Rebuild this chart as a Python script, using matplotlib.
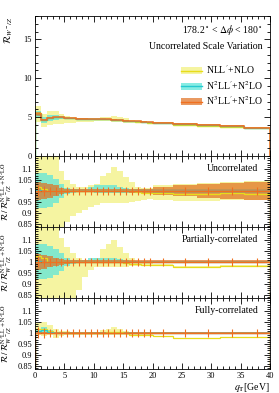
import numpy as np
import matplotlib
matplotlib.use("Agg")
import matplotlib.pyplot as plt
from matplotlib.patches import Patch
from matplotlib.lines import Line2D
from matplotlib.ticker import MultipleLocator, FixedLocator

plt.rcParams['font.family'] = ['Liberation Serif', 'DejaVu Serif']
plt.rcParams['mathtext.fontset'] = 'stix'

# ---------------- data ----------------
edges = [0, 1, 2, 3, 4, 5, 6, 7, 8, 9, 10, 11, 12, 13, 14, 15, 16, 17, 18, 19, 20,
         23.5, 27.5, 31.5, 35.5, 40]

# N3LL'+N2LO central R_{W-/Z}
r_n3ll = [5.4, 4.6, 4.9, 4.95, 4.95, 4.9, 4.85, 4.82, 4.8, 4.77, 4.75, 4.72, 4.7, 4.67,
          4.62, 4.55, 4.5, 4.45, 4.4, 4.35, 4.25, 4.1, 3.95, 3.8, 3.6]

# stat. errors on reference ratio
ref_err = [0.025, 0.022, 0.02, 0.02, 0.02, 0.02, 0.02, 0.02, 0.02, 0.02, 0.02, 0.02, 0.02,
           0.02, 0.02, 0.02, 0.02, 0.02, 0.02, 0.02, 0.02, 0.02, 0.02, 0.02, 0.02]

# --- Uncorrelated ratios ---
unc_nll_c = [1.02, 1.01, 1.0, 1.0, 1.0, 1.0, 1.0, 1.0, 1.0, 1.0, 1.0, 1.0, 1.0, 1.0, 1.0,
             1.0, 0.998, 0.995, 0.99, 0.99, 0.99, 0.985, 0.985, 0.99, 0.985]
unc_nll_lo = [0.82, 0.82, 0.82, 0.82, 0.83, 0.86, 0.885, 0.9, 0.915, 0.925, 0.935, 0.945,
              0.945, 0.945, 0.945, 0.945, 0.95, 0.955, 0.96, 0.965, 0.96, 0.955, 0.955,
              0.96, 0.96]
unc_nll_hi = [1.18, 1.18, 1.18, 1.18, 1.09, 1.05, 1.03, 1.02, 1.02, 1.025, 1.03, 1.07,
              1.08, 1.11, 1.09, 1.065, 1.04, 1.02, 1.015, 1.015, 1.025, 1.03, 1.035,
              1.04, 1.045]
unc_n2ll_c = [1.005, 1.0, 1.0, 1.0, 1.0, 1.0, 1.0, 1.0, 1.0, 1.0, 1.0, 1.0, 1.0, 1.0, 1.0,
              1.0, 1.0, 1.0, 1.0, 1.0, 1.0, 1.0, 1.0, 1.0, 1.0]
unc_n2ll_lo = [0.92, 0.92, 0.925, 0.945, 0.97, 0.985, 0.99, 0.993, 0.993, 0.993, 0.992,
               0.99, 0.99, 0.99, 0.99, 0.992, 0.993, 0.993, 0.993, 0.993, 0.99, 0.99,
               0.99, 0.99, 0.99]
unc_n2ll_hi = [1.08, 1.08, 1.075, 1.055, 1.03, 1.015, 1.01, 1.01, 1.01, 1.02, 1.025, 1.025,
               1.025, 1.025, 1.02, 1.015, 1.01, 1.01, 1.01, 1.01, 1.01, 1.01, 1.01, 1.01,
               1.01]
unc_n3ll_lo = [0.96, 0.965, 0.97, 0.975, 0.985, 0.99, 0.993, 0.993, 0.993, 0.993, 0.993,
               0.993, 0.993, 0.993, 0.993, 0.993, 0.99, 0.99, 0.99, 0.99, 0.98, 0.975,
               0.97, 0.965, 0.96]
unc_n3ll_hi = [1.04, 1.035, 1.03, 1.025, 1.015, 1.01, 1.007, 1.007, 1.007, 1.007, 1.007,
               1.007, 1.007, 1.007, 1.007, 1.007, 1.01, 1.01, 1.01, 1.01, 1.02, 1.025,
               1.03, 1.035, 1.04]

# --- Partially-correlated ratios ---
par_nll_c = [1.025, 1.02, 1.0, 1.0, 1.0, 1.0, 1.0, 1.0, 1.0, 1.0, 1.0, 1.0, 1.0, 1.0, 1.0,
             0.995, 0.99, 0.99, 0.985, 0.985, 0.985, 0.978, 0.978, 0.98, 0.98]
par_nll_lo = [0.82, 0.82, 0.82, 0.82, 0.82, 0.82, 0.82, 0.87, 0.93, 0.965, 0.975, 0.975,
              0.975, 0.975, 0.975, 0.975, 0.98, 0.98, 0.98, 0.98, 0.98, 0.975, 0.975,
              0.977, 0.977]
par_nll_hi = [1.18, 1.18, 1.18, 1.18, 1.11, 1.07, 1.04, 1.02, 1.01, 1.01, 1.02, 1.06,
              1.08, 1.1, 1.07, 1.04, 1.02, 1.005, 1.0, 1.0, 0.99, 0.982, 0.982, 0.984,
              0.984]
par_n2ll_c = [1.005, 1.0, 1.0, 1.0, 1.0, 1.0, 1.0, 1.0, 1.0, 1.0, 1.0, 1.0, 1.0, 1.0, 1.0,
              1.0, 1.0, 1.0, 1.0, 1.0, 1.0, 1.0, 1.0, 1.0, 1.0]
par_n2ll_lo = [0.92, 0.92, 0.925, 0.94, 0.96, 0.98, 0.99, 0.993, 0.995, 0.995, 0.995,
               0.995, 0.995, 0.995, 0.995, 0.995, 0.995, 0.995, 0.995, 0.995, 0.995,
               0.995, 0.995, 0.995, 0.995]
par_n2ll_hi = [1.08, 1.08, 1.075, 1.06, 1.04, 1.02, 1.01, 1.008, 1.01, 1.02, 1.02, 1.02,
               1.02, 1.02, 1.015, 1.01, 1.005, 1.005, 1.005, 1.005, 1.005, 1.005, 1.005,
               1.005, 1.005]
par_n3ll_lo = [0.965, 0.97, 0.975, 0.98, 0.985, 0.99, 0.993, 0.993, 0.993, 0.993, 0.993,
               0.993, 0.993, 0.993, 0.993, 0.993, 0.993, 0.993, 0.993, 0.993, 0.993,
               0.993, 0.993, 0.993, 0.993]
par_n3ll_hi = [1.035, 1.03, 1.025, 1.02, 1.015, 1.01, 1.007, 1.007, 1.007, 1.007, 1.007,
               1.007, 1.007, 1.007, 1.007, 1.007, 1.007, 1.007, 1.007, 1.007, 1.007,
               1.007, 1.007, 1.007, 1.007]

# --- Fully-correlated ratios ---
ful_nll_c = [1.02, 1.02, 1.01, 1.0, 1.0, 1.0, 1.0, 1.0, 1.0, 1.0, 1.0, 1.0, 1.005, 1.005,
             1.005, 1.0, 0.99, 0.99, 0.99, 0.99, 0.985, 0.975, 0.975, 0.98, 0.98]
ful_nll_lo = [0.99, 0.985, 0.99, 0.975, 0.985, 0.99, 0.99, 0.99, 0.99, 0.99, 0.99, 0.99,
              0.99, 0.99, 0.99, 0.99, 0.985, 0.985, 0.985, 0.985, 0.982, 0.972, 0.972,
              0.977, 0.977]
ful_nll_hi = [1.045, 1.05, 1.035, 1.02, 1.01, 1.008, 1.005, 1.005, 1.005, 1.005, 1.005,
              1.015, 1.02, 1.025, 1.02, 1.01, 0.995, 0.995, 0.995, 0.995, 0.988, 0.978,
              0.978, 0.983, 0.983]
ful_n2ll_c = [1.01, 1.012, 1.005, 1.0, 1.0, 1.0, 1.0, 1.0, 1.0, 1.0, 1.0, 1.0, 1.0, 1.0,
              1.0, 1.0, 1.0, 1.0, 1.0, 1.0, 1.0, 1.0, 1.0, 1.0, 1.0]
ful_n2ll_lo = [1.0, 1.0, 0.998, 0.997, 0.997, 0.997, 0.997, 0.997, 0.997, 0.997, 0.997,
               0.997, 0.997, 0.997, 0.997, 0.997, 0.997, 0.997, 0.997, 0.997, 0.997,
               0.997, 0.997, 0.997, 0.997]
ful_n2ll_hi = [1.02, 1.025, 1.012, 1.003, 1.003, 1.003, 1.003, 1.003, 1.003, 1.003, 1.003,
               1.003, 1.003, 1.003, 1.003, 1.003, 1.003, 1.003, 1.003, 1.003, 1.003,
               1.003, 1.003, 1.003, 1.003]
ful_n3ll_lo = [0.993, 0.994, 0.995, 0.995, 0.995, 0.995, 0.995, 0.995, 0.995, 0.995, 0.995,
               0.995, 0.995, 0.995, 0.995, 0.995, 0.995, 0.995, 0.995, 0.995, 0.995,
               0.995, 0.995, 0.995, 0.995]
ful_n3ll_hi = [1.007, 1.006, 1.005, 1.005, 1.005, 1.005, 1.005, 1.005, 1.005, 1.005, 1.005,
               1.005, 1.005, 1.005, 1.005, 1.005, 1.005, 1.005, 1.005, 1.005, 1.005,
               1.005, 1.005, 1.005, 1.005]

labels = ["NLL$'$+NLO", "N$^2$LL$'$+N$^2$LO", "N$^3$LL$'$+N$^2$LO"]
panel_titles = ["Uncorrelated", "Partially-correlated", "Fully-correlated"]

# ---------------- styling ----------------
c_y_band, c_y_line = '#f2f07a', '#e8dc1a'
c_c_band, c_c_line = '#5fe6da', '#25c9d0'
c_o_band, c_o_line = '#e07020', '#f07020'
a_y, a_c, a_o = 0.7, 0.75, 0.7

edges_a = np.array(edges)
centers = 0.5 * (edges_a[1:] + edges_a[:-1])
halfw = 0.5 * (edges_a[1:] - edges_a[:-1])
ref = np.array(r_n3ll)

W, H = 279, 393
fig = plt.figure(figsize=(W / 100, H / 100), dpi=100)
L, R = 35 / W, 270 / W


def ax_at(top_px, bot_px):
    return fig.add_axes([L, 1 - bot_px / H, R - L, (bot_px - top_px) / H])


ax_main = ax_at(16, 156)
ax_r = [ax_at(156, 227), ax_at(227, 298), ax_at(298, 369)]

fs_tick = 6
fs_text = 7


def style(ax):
    ax.tick_params(which='both', direction='in', top=True, right=True,
                   labelsize=fs_tick, width=0.6, pad=2)
    ax.tick_params(which='major', length=4)
    ax.tick_params(which='minor', length=2)
    for s in ax.spines.values():
        s.set_linewidth(0.6)
    ax.set_xlim(0, 40)
    ax.xaxis.set_major_locator(MultipleLocator(5))
    ax.xaxis.set_minor_locator(MultipleLocator(1))


def bands(ax, scale, sets):
    for (lo, hi, col, a) in sets:
        ax.stairs(np.array(hi) * scale, edges_a, baseline=np.array(lo) * scale,
                  fill=True, color=col, alpha=a, lw=0)


# main panel
bands(ax_main, ref, [(unc_nll_lo, unc_nll_hi, c_y_band, a_y),
                     (unc_n2ll_lo, unc_n2ll_hi, c_c_band, a_c),
                     (unc_n3ll_lo, unc_n3ll_hi, c_o_band, a_o)])
ax_main.stairs(np.array(unc_nll_c) * ref, edges_a, color=c_y_line, lw=1.0)
ax_main.stairs(np.array(unc_n2ll_c) * ref, edges_a, color=c_c_line, lw=1.0)
ax_main.stairs(ref, edges_a, color=c_o_line, lw=1.1)
style(ax_main)
ax_main.set_ylim(0, 18)
ax_main.yaxis.set_major_locator(MultipleLocator(5))
ax_main.yaxis.set_minor_locator(MultipleLocator(1))
ax_main.tick_params(labelbottom=False)
ax_main.set_ylabel(r"$\mathcal{R}_{W^-/Z}$", fontsize=fs_text, loc='top')
ax_main.yaxis.set_label_coords(-0.085, 1.0)
ax_main.text(0.97, 0.90, r"178.2$^\circ$ < $\Delta\phi$ < 180$^\circ$", transform=ax_main.transAxes,
             ha='right', va='center', fontsize=fs_text)
ax_main.text(0.97, 0.78, "Uncorrelated Scale Variation", transform=ax_main.transAxes,
             ha='right', va='center', fontsize=fs_text)
handles = [(Patch(color=c_y_band, alpha=a_y, lw=0), Line2D([], [], color=c_y_line, lw=1)),
           (Patch(color=c_c_band, alpha=a_c, lw=0), Line2D([], [], color=c_c_line, lw=1)),
           (Patch(color=c_o_band, alpha=a_o, lw=0), Line2D([], [], color=c_o_line, lw=1))]
ax_main.legend(handles, labels, loc='upper right', bbox_to_anchor=(1.0, 0.71),
               frameon=False, fontsize=fs_text, handlelength=2.2, handleheight=0.7,
               labelspacing=0.25, handletextpad=0.4, borderaxespad=0.3)

panels = [
    (unc_nll_c, unc_nll_lo, unc_nll_hi, unc_n2ll_c, unc_n2ll_lo, unc_n2ll_hi, unc_n3ll_lo, unc_n3ll_hi),
    (par_nll_c, par_nll_lo, par_nll_hi, par_n2ll_c, par_n2ll_lo, par_n2ll_hi, par_n3ll_lo, par_n3ll_hi),
    (ful_nll_c, ful_nll_lo, ful_nll_hi, ful_n2ll_c, ful_n2ll_lo, ful_n2ll_hi, ful_n3ll_lo, ful_n3ll_hi),
]
ratio_label = r"$\mathcal{R}\,/\,\mathcal{R}^{\mathrm{N^3LL'+N^2LO}}_{W^-/Z}$"
for i, (ax, p) in enumerate(zip(ax_r, panels)):
    yc, ylo, yhi, cc, clo, chi, olo, ohi = p
    bands(ax, 1.0, [(ylo, yhi, c_y_band, a_y), (clo, chi, c_c_band, a_c), (olo, ohi, c_o_band, a_o)])
    ax.stairs(yc, edges_a, color=c_y_line, lw=0.9)
    ax.stairs(cc, edges_a, color=c_c_line, lw=0.9)
    ax.stairs(np.ones(len(centers)), edges_a, color=c_o_line, lw=1.0)
    ax.errorbar(centers, np.ones(len(centers)), xerr=halfw, yerr=ref_err, fmt='none',
                ecolor=c_o_line, elinewidth=0.8, capsize=0)
    style(ax)
    ax.set_ylim(0.835, 1.16)
    ax.yaxis.set_major_locator(FixedLocator([0.85, 0.9, 0.95, 1.0, 1.05, 1.1]))
    ax.yaxis.set_minor_locator(MultipleLocator(0.01))
    ax.set_yticklabels(['0.85', '0.9', '0.95', '1', '1.05', '1.1'])
    ax.set_ylabel(ratio_label, fontsize=6.3)
    ax.yaxis.set_label_coords(-0.09, 0.5)
    ax.text(0.95, 0.82, panel_titles[i], transform=ax.transAxes, ha='right', va='center',
            fontsize=fs_text)
    if i < 2:
        ax.tick_params(labelbottom=False)

ax_r[2].set_xlabel(r"$q_{\mathrm{T}}$[GeV]", fontsize=fs_text, loc='right', labelpad=1)

fig.savefig("out.png", dpi=100)
